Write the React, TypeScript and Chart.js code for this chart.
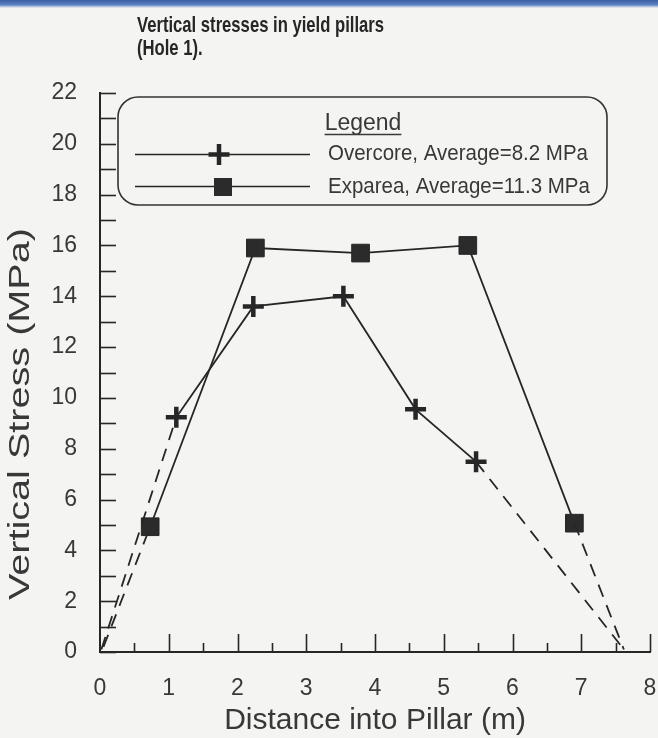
import React, { useEffect, useRef } from 'react';
import { Chart, registerables } from 'chart.js';

Chart.register(...registerables);

// ---- data ----
const chartTitle = ['Vertical stresses in yield pillars', '(Hole 1).'];
const xAxisTitle = 'Distance into Pillar (m)';
const yAxisTitle = 'Vertical Stress (MPa)';
const legendHeader = 'Legend';
const overcoreLabel = 'Overcore, Average=8.2 MPa';
const expareaLabel = 'Exparea, Average=11.3 MPa';

const overcoreX = [1.11, 2.23, 3.54, 4.59, 5.47];
const overcoreY = [9.24, 13.6, 14.0, 9.55, 7.49];
const expareaX = [0.73, 2.26, 3.79, 5.35, 6.9];
const expareaY = [4.93, 15.9, 15.7, 16.0, 5.07];

// extrapolated (dashed) parts
const overcoreLeftX = [0.02, 1.11];
const overcoreLeftY = [0.1, 9.24];
const overcoreRightX = [5.47, 7.62];
const overcoreRightY = [7.49, 0.1];
const expareaLeftX = [0.05, 0.73];
const expareaLeftY = [0.2, 4.93];
const expareaRightX = [6.9, 7.62];
const expareaRightY = [5.07, 0.1];

const xMin = 0;
const xMax = 8;
const yMin = 0;
const yMax = 22;
const yMinorTicks = Array.from({ length: 23 }, (_, i) => i); // 0..22
const xMinorTicks = [0.5, 1, 1.5, 2, 2.5, 3, 3.5, 4, 4.5, 5, 5.5, 6, 6.5, 7, 7.5, 8];

const INK = '#262626';
const TEXT = '#383838';
const BG = '#f4f4f2';
const FONT = '"Liberation Sans", Arial, Helvetica, sans-serif';

const pts = (xs: number[], ys: number[]) => xs.map((x, i) => ({ x, y: ys[i] }));

export default function App() {
  const ref = useRef<HTMLCanvasElement | null>(null);

  useEffect(() => {
    document.body.style.margin = '0';
    const canvas = ref.current!;

    const decor = {
      id: 'decor',
      beforeDraw(chart: any) {
        const c = chart.ctx as CanvasRenderingContext2D;
        c.save();
        c.fillStyle = BG;
        c.fillRect(0, 0, chart.width, chart.height);
        const g = c.createLinearGradient(0, 0, 0, 8);
        g.addColorStop(0, '#3a5fa6');
        g.addColorStop(0.6, '#5b82c2');
        g.addColorStop(1, BG);
        c.fillStyle = g;
        c.fillRect(0, 0, chart.width, 8);
        c.restore();
      },
      afterDraw(chart: any) {
        const c = chart.ctx as CanvasRenderingContext2D;
        const xs = chart.scales.x;
        const ys = chart.scales.y;
        const left = chart.chartArea.left;
        const bottom = chart.chartArea.bottom;
        c.save();
        c.strokeStyle = INK;
        c.lineWidth = 1.6;
        // inward y ticks
        yMinorTicks.forEach((v) => {
          const py = Math.round(ys.getPixelForValue(v)) + 0.5;
          c.beginPath();
          c.moveTo(left, py);
          c.lineTo(left + 16, py);
          c.stroke();
        });
        // inward x ticks
        xMinorTicks.forEach((v) => {
          const px = Math.round(xs.getPixelForValue(v)) + 0.5;
          const len = Number.isInteger(v) ? 18 : 9;
          c.beginPath();
          c.moveTo(px, bottom);
          c.lineTo(px, bottom - len);
          c.stroke();
        });

        // y axis title (rotated, stretched along its baseline)
        c.save();
        c.fillStyle = TEXT;
        c.font = `30px ${FONT}`;
        c.textAlign = 'center';
        c.textBaseline = 'middle';
        const tw = c.measureText(yAxisTitle).width;
        c.translate(21, 414);
        c.rotate(-Math.PI / 2);
        c.scale(372 / tw, 1);
        c.fillText(yAxisTitle, 0, 0);
        c.restore();

        // title (bold, condensed)
        c.fillStyle = '#262626';
        c.font = `bold 22px ${FONT}`;
        c.textBaseline = 'alphabetic';
        c.textAlign = 'left';
        const w = c.measureText(chartTitle[0]).width;
        const sx = 247 / w;
        c.save();
        c.translate(137, 0);
        c.scale(sx, 1);
        c.fillText(chartTitle[0], 0, 32);
        c.fillText(chartTitle[1], 0, 55);
        c.restore();

        // legend box
        c.lineWidth = 1.6;
        c.strokeStyle = '#333';
        c.beginPath();
        (c as any).roundRect(118, 97, 489, 108, 20);
        c.stroke();

        c.fillStyle = TEXT;
        c.font = `23px ${FONT}`;
        c.textAlign = 'center';
        c.textBaseline = 'middle';
        c.fillText(legendHeader, 363, 124);
        const hw = c.measureText(legendHeader).width;
        c.lineWidth = 1.4;
        c.strokeStyle = TEXT;
        c.beginPath();
        c.moveTo(363 - hw / 2, 134.5);
        c.lineTo(363 + hw / 2, 134.5);
        c.stroke();

        // legend rows
        c.strokeStyle = INK;
        c.lineWidth = 1.6;
        [154.5, 186.5].forEach((y) => {
          c.beginPath();
          c.moveTo(135, y);
          c.lineTo(310, y);
          c.stroke();
        });
        // plus marker
        c.lineWidth = 4.5;
        c.beginPath();
        c.moveTo(219, 144);
        c.lineTo(219, 165);
        c.moveTo(208.5, 154.5);
        c.lineTo(229.5, 154.5);
        c.stroke();
        // square marker
        c.fillStyle = '#2b2b2b';
        c.fillRect(214, 178, 18, 18);

        c.fillStyle = TEXT;
        c.font = `20.5px ${FONT}`;
        c.textAlign = 'left';
        c.save();
        c.translate(328, 0);
        c.scale(1, 1.1);
        c.fillText(overcoreLabel, 0, 154 / 1.1);
        c.fillText(expareaLabel, 0, 187 / 1.1);
        c.restore();
        c.restore();
      },
    };

    const solid = (label: string, data: any[], style: string, radius: number, pbw: number) => ({
      label,
      data,
      showLine: true,
      borderColor: INK,
      borderWidth: 1.8,
      pointStyle: style,
      pointRadius: radius,
      pointHoverRadius: radius,
      pointBorderWidth: pbw,
      pointBorderColor: INK,
      pointBackgroundColor: '#2b2b2b',
    });
    const dashed = (label: string, data: any[]) => ({
      label,
      data,
      showLine: true,
      borderColor: INK,
      borderWidth: 1.8,
      borderDash: [13, 9],
      pointRadius: 0,
      pointHoverRadius: 0,
    });

    const chart = new Chart(canvas, {
      type: 'scatter',
      data: {
        datasets: [
          dashed('Overcore left', pts(overcoreLeftX, overcoreLeftY)),
          dashed('Overcore right', pts(overcoreRightX, overcoreRightY)),
          dashed('Exparea left', pts(expareaLeftX, expareaLeftY)),
          dashed('Exparea right', pts(expareaRightX, expareaRightY)),
          solid(overcoreLabel, pts(overcoreX, overcoreY), 'cross', 10.5, 4.5),
          solid(expareaLabel, pts(expareaX, expareaY), 'rect', 12.5, 1),
        ] as any,
      },
      options: {
        responsive: false,
        animation: false,
        devicePixelRatio: 1,
        layout: { autoPadding: false, padding: { top: 93, right: 8, left: 0, bottom: 0 } },
        plugins: {
          legend: { display: false },
          tooltip: { enabled: false },
          title: { display: false },
        },
        scales: {
          x: {
            type: 'linear',
            min: xMin,
            max: xMax,
            ticks: {
              stepSize: 1,
              color: TEXT,
              font: { family: FONT, size: 23 },
              padding: 23,
              maxRotation: 0,
            },
            grid: { display: false, drawTicks: false },
            border: { display: true, width: 2, color: INK },
            title: {
              display: true,
              text: xAxisTitle,
              color: TEXT,
              font: { family: FONT, size: 30, lineHeight: 1 },
              padding: { top: 0, bottom: 2 },
            },
            afterFit(s: any) {
              s.height = 86;
              s.paddingLeft = 0;
              s.paddingRight = 0;
            },
          },
          y: {
            type: 'linear',
            min: yMin,
            max: yMax,
            ticks: {
              stepSize: 2,
              color: TEXT,
              font: { family: FONT, size: 23 },
              padding: 23,
            },
            grid: { display: false, drawTicks: false },
            border: { display: true, width: 2, color: INK },
            title: { display: false },
            afterFit(s: any) {
              s.width = 100;
            },
          },
        },
      } as any,
      plugins: [decor],
    });
    return () => chart.destroy();
  }, []);

  return (
    <div style={{ position: 'absolute', left: 0, top: 0, width: 658, height: 738, background: BG }}>
      <canvas ref={ref} width={658} height={738} style={{ display: 'block' }} />
    </div>
  );
}
